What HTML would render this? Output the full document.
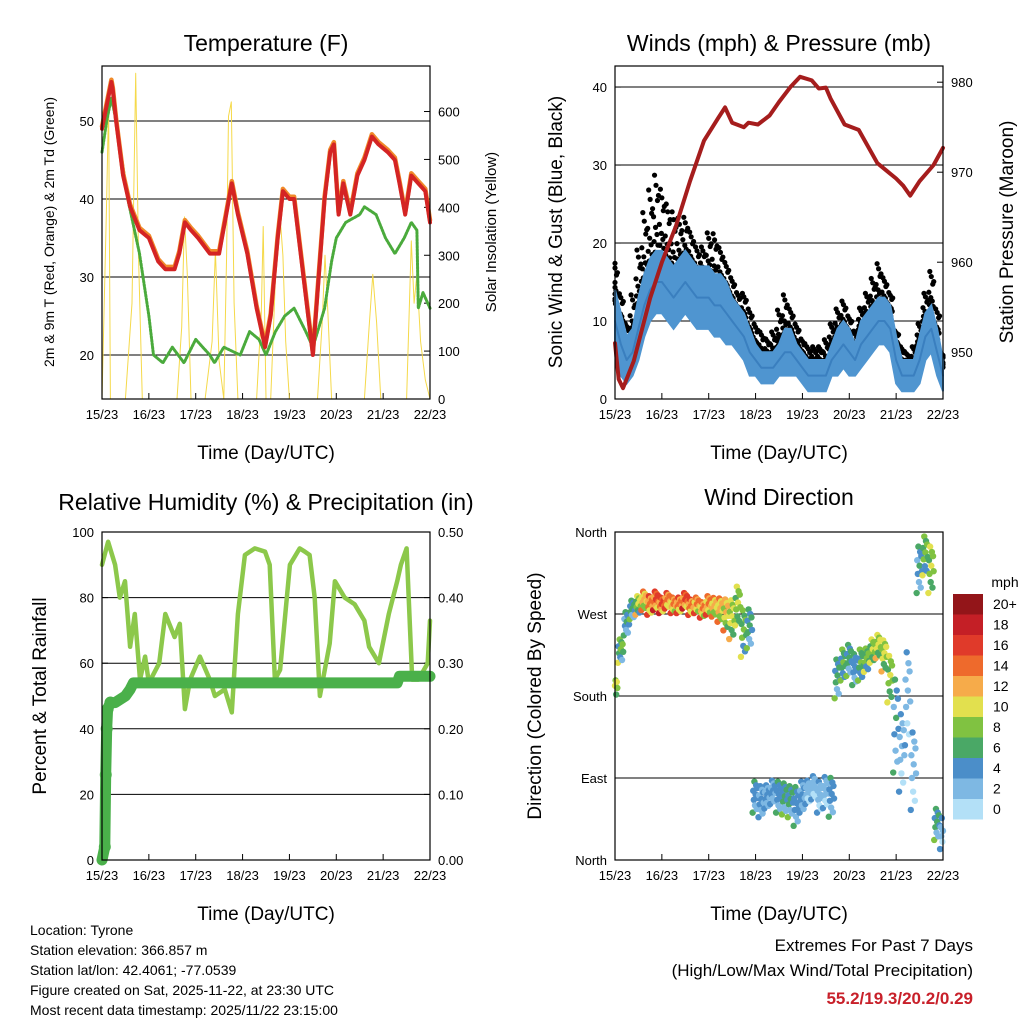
<!DOCTYPE html>
<html><head><meta charset="utf-8"><style>
body{margin:0;background:#fff}
svg text{font-family:"Liberation Sans",Arial,sans-serif;fill:#000}
</style></head><body>
<svg id="s" width="1024" height="1024" viewBox="0 0 1024 1024" xmlns="http://www.w3.org/2000/svg"></svg>
<script>
// ---- data ----
const dayLabels=["15/23","16/23","17/23","18/23","19/23","20/23","21/23","22/23"];
const tempTimes=[0,0.1,0.2,0.23,0.3,0.45,0.6,0.8,1.0,1.2,1.35,1.55,1.65,1.77,1.9,2.05,2.3,2.5,2.65,2.77,2.9,3.1,3.3,3.48,3.6,3.75,3.86,4.0,4.1,4.3,4.5,4.6,4.75,4.87,4.95,5.05,5.15,5.3,5.45,5.6,5.76,5.9,6.1,6.25,6.35,6.47,6.6,6.75,6.9,7.0];
const tempValues=[49,52,55,54,50,43,39,36,35,32,31,31,33,37,36,35,33,33,38,42,38,33,26,21,25,35,41,40,40,30,20,28,40,46,47,38,42,38,43,45,48,47,46,45,42,38,43,42,41,37];
const dewTimes=[0,0.1,0.2,0.3,0.4,0.55,0.8,1.0,1.1,1.3,1.5,1.75,2.0,2.3,2.4,2.6,2.95,3.15,3.35,3.5,3.7,3.9,4.1,4.35,4.5,4.75,4.9,5.0,5.2,5.5,5.6,5.85,6.05,6.25,6.45,6.6,6.72,6.75,6.85,7.0];
const dewValues=[46,50,53,50,46,40,33,25,20,19,21,19,22,20,19,21,20,23,22,20,23,25,26,23,21,26,32,35,37,38,39,38,35,33,35,37,36,26,28,26];
const solarTimes=[0,0.1,0.14,0.18,0.5,0.64,0.72,0.78,0.86,1.6,1.7,1.76,1.82,1.9,2.2,2.35,2.42,2.5,2.6,2.66,2.7,2.76,2.82,2.9,3.3,3.4,3.44,3.5,3.6,3.7,3.8,3.86,3.92,4.0,4.6,4.7,4.76,4.82,4.9,5.6,5.7,5.78,5.86,5.95,6.5,6.6,6.66,6.72,6.8,6.9,7.0];
const solarValues=[0,420,620,0,0,200,680,300,0,0,150,380,260,0,0,120,310,80,0,300,590,620,200,0,0,180,360,0,0,250,380,300,120,0,0,160,300,180,0,0,150,260,160,0,0,330,200,260,120,40,0];
const wind=[10,7,5,6,9,12,14,15,15,14,13,14,15,14,13,13,13,12,12,11,10,9,8,6,5,4,4,4,5,6,6,5,4,3,3,3,3,5,6,7,6,5,7,8,9,10,10,9,5,3,3,3,5,8,9,6,3];
const windSpread=[4,4,3,3,4,4,4,4,4,4,4,4,4,4,4,4,4,4,4,4,3,3,3,3,2,2,2,2,2,3,3,2,2,2,2,2,2,2,3,3,3,2,3,3,3,3,3,3,3,2,2,2,3,3,3,3,2];
const gust=[18,14,10,14,20,25,28,30,28,26,25,24,24,22,20,20,22,22,20,18,16,14,14,12,10,9,8,9,12,14,12,10,8,7,7,7,8,10,12,13,11,9,12,14,16,18,16,14,9,7,6,7,10,14,17,12,6];
const presTimes=[0,0.08,0.17,0.4,0.75,1.0,1.3,1.6,1.9,2.2,2.35,2.5,2.75,2.85,3.05,3.3,3.5,3.75,3.95,4.2,4.35,4.5,4.6,4.9,5.2,5.6,6.0,6.15,6.3,6.5,6.8,7.0];
const presValues=[951,947,946,949,956,960,964,969,973.5,976,977.2,975.5,975,975.5,975.3,976.3,977.8,979.5,980.6,980.2,979.3,979.4,978.2,975.3,974.7,971,969.3,968.5,967.4,969,970.8,972.7];
const rhTimes=[0,0.13,0.28,0.38,0.49,0.6,0.7,0.81,0.92,1.0,1.22,1.35,1.55,1.66,1.77,1.88,2.09,2.3,2.41,2.62,2.77,2.9,3.05,3.26,3.48,3.58,3.69,3.8,4.01,4.22,4.33,4.43,4.54,4.65,4.86,4.97,5.18,5.39,5.6,5.7,5.91,6.12,6.3,6.38,6.5,6.62,6.75,6.95,7.0];
const rhValues=[90,97,90,80,85,65,75,55,62,54,60,75,68,72,46,55,62,55,50,52,45,75,93,95,94,90,55,58,90,95,94,93,80,50,66,85,80,78,73,65,60,75,85,90,95,55,55,60,73];
const precipTimes=[0,0.06,0.08,0.1,0.12,0.18,0.28,0.5,0.6,0.67,6.3,6.35,7.0];
const precipValues=[0,0.02,0.13,0.2,0.23,0.24,0.24,0.25,0.26,0.27,0.27,0.28,0.28];
const dirValues=[190,230,260,275,280,285,280,285,280,285,280,280,285,278,280,275,280,278,275,270,265,280,250,255,70,65,70,75,70,68,65,60,70,75,80,70,75,70,200,215,220,210,215,220,230,235,225,200,150,120,180,100,320,335,320,40,30];
const dirSpread=[12,15,15,12,12,12,12,12,10,10,10,10,10,10,10,10,12,12,15,20,25,25,30,25,20,20,15,15,20,20,20,25,20,15,15,20,20,25,25,20,20,20,20,15,15,15,20,30,60,50,60,50,30,25,30,20,20];
const cbLabels=["20+","18","16","14","12","10","8","6","4","2","0"];
const cbColors=["#931519","#c41f26","#e03a2a","#ee6a2c","#f6ab4a","#e2e04e","#80c241","#4aa866","#4b8ec9","#7eb8e3","#b3e0f7"];

const NS="http://www.w3.org/2000/svg";
const svg=document.getElementById('s');
function el(tag,at,parent){const e=document.createElementNS(NS,tag);for(const k in at)e.setAttribute(k,at[k]);(parent||svg).appendChild(e);return e;}
function txt(s,x,y,size,anchor,rot,parent){const t=el('text',{x:x,y:y,'font-size':size,'text-anchor':anchor||'middle'},parent);if(rot)t.setAttribute('transform','rotate('+rot+' '+x+' '+y+')');t.textContent=s;return t;}

const P1={x0:102,x1:430,y0:66,y1:399},P2={x0:615,x1:943,y0:66,y1:399},P3={x0:102,x1:430,y0:532,y1:860},P4={x0:615,x1:943,y0:532,y1:860};
function xs(P,d){return P.x0+(P.x1-P.x0)*d/7;}
function lin(P,lo,hi){return v=>P.y1-(v-lo)/(hi-lo)*(P.y1-P.y0);}
function frame(P,name){
  const g=el('g',{});
  for(let i=0;i<dayLabels.length;i++){const x=xs(P,i);
    el('line',{x1:x,x2:x,y1:P.y1,y2:P.y1-6,stroke:'#000'},g);
    const t=txt(dayLabels[i],x,P.y1+20,13,'middle',0,g);}
  const tt=txt('Time (Day/UTC)',(P.x0+P.x1)/2,P.y1+60,19,'middle',0,g);
  return g;}
function border(P){const r=el('rect',{x:P.x0,y:P.y0,width:P.x1-P.x0,height:P.y1-P.y0,fill:'none',stroke:'#000','stroke-width':1.2});}
function hgrid(P,y,lab,side,ticksOnly){ if(!ticksOnly)el('line',{x1:P.x0,x2:P.x1,y1:y,y2:y,stroke:'#000','stroke-width':1});
  if(side==='L'){el('line',{x1:P.x0,x2:P.x0+6,y1:y,y2:y,stroke:'#000'});const t=txt(lab,P.x0-8,y+5,13,'end');}
  else{el('line',{x1:P.x1,x2:P.x1-6,y1:y,y2:y,stroke:'#000'});const t=txt(lab,P.x1+8,y+5,13,'start');}}
function poly(P,times,vals,ys,stroke,w,name){let d='';for(let i=0;i<times.length;i++)d+=(i?'L':'M')+xs(P,times[i]).toFixed(1)+','+ys(vals[i]).toFixed(1);
  const p=el('path',{d:d,fill:'none',stroke:stroke,'stroke-width':w,'stroke-linejoin':'round','stroke-linecap':'round'});return p;}
function spdColor(v){let i=Math.min(10,Math.max(0,Math.floor(v/2)));return cbColors[10-i];}

// ---- Panel 1: Temperature ----
{const P=P1;frame(P,'temperature-x-axis');
 const yT=lin(P,14.36,57.05),yS=lin(P,0,695);
 [20,30,40,50].forEach(v=>hgrid(P,yT(v),String(v),'L'));
 [0,100,200,300,400,500,600].forEach(v=>hgrid(P,yS(v),String(v),'R',true));
 poly(P,solarTimes,solarValues,yS,'#f5d94a',1,'solar-line');
 poly(P,dewTimes,dewValues,yT,'#4aaa3c',3,'dewpoint-line').setAttribute('stroke-dasharray','2 1.5');
 poly(P,tempTimes,tempValues.map(v=>v+0.3),yT,'#f08a2a',4.5,'temp-9m-line');
 poly(P,tempTimes,tempValues,yT,'#d42424',4,'temp-2m-line');
 border(P);
 let t=txt('Temperature (F)',266,51,23);
 t=txt('2m & 9m T (Red, Orange) & 2m Td (Green)',54,232,14,'middle',-90);
 t=txt('Solar Insolation (Yellow)',496,232,15,'middle',-90);}

// ---- Panel 2: Winds & Pressure ----
{const P=P2;frame(P,'winds-x-axis');
 const yW=lin(P,0,42.7),yP=lin(P,944.8,981.8);
 [0,10,20,30,40].forEach(v=>hgrid(P,yW(v),String(v),'L',v===0));
 [950,960,970,980].forEach(v=>hgrid(P,yP(v),String(v),'R',true));
 const n=wind.length, tt=wind.map((_,i)=>i*7/(n-1));
 const pat=[0.1,0.7,0.35,0.9,0.2,0.55,0.8,0.05,0.45,0.65,0.3,1.0];
 for(let i=0;i<n;i++){for(let k=0;k<12;k++){const dt=(k/12-0.5)*0.125;const lo=wind[i]+windSpread[i]*0.5;const v=lo+(gust[i]-lo)*pat[k]*(k%3===0?1:0.7);
   const c=el('circle',{cx:xs(P,Math.min(7,Math.max(0,tt[i]+dt))),cy:yW(v),r:2.6,fill:'#000'});
   
   }}
 let up='',dn='';for(let i=0;i<n;i++){up+=(i?'L':'M')+xs(P,tt[i])+','+yW(wind[i]+windSpread[i]);}
 for(let i=n-1;i>=0;i--){dn+='L'+xs(P,tt[i])+','+yW(Math.max(0,wind[i]-windSpread[i]));}
 const b=el('path',{d:up+dn+'Z',fill:'#4f95d0',stroke:'#4f95d0','stroke-width':2});
 poly(P,tt,wind,yW,'#3a7fbf',2,'sustained-wind-line');
 poly(P,presTimes,presValues,yP,'#a51d1d',4,'pressure-line');
 border(P);
 let t=txt('Winds (mph) & Pressure (mb)',779,51,23);
 t=txt('Sonic Wind & Gust (Blue, Black)',562,232,19,'middle',-90);
 t=txt('Station Pressure (Maroon)',1013,232,19,'middle',-90);}

// ---- Panel 3: RH & Precip ----
{const P=P3;frame(P,'rh-x-axis');
 const yR=lin(P,0,100),yQ=lin(P,0,0.5);
 [0,20,40,60,80,100].forEach(v=>hgrid(P,yR(v),String(v),'L',v===0||v===100));
 [0,0.1,0.2,0.3,0.4,0.5].forEach(v=>hgrid(P,yQ(v),v.toFixed(2),'R',true));
 poly(P,rhTimes,rhValues,yR,'#8cc84b',4.5,'rh-line');
 poly(P,precipTimes,precipValues,yQ,'#4ab04a',11,'precip-line');
 for(let i=1;i<6;i++){const c=el('circle',{cx:xs(P,precipTimes[i]),cy:yQ(precipValues[i]),r:6,fill:'#4ab04a'});
   
   }
 border(P);
 let t=txt('Relative Humidity (%) & Precipitation (in)',266,510,23);
 t=txt('Percent & Total Rainfall',46,696,19,'middle',-90);}

// ---- Panel 4: Wind Direction ----
{const P=P4;frame(P,'direction-x-axis');
 const yD=lin(P,0,360);
 [[360,'North'],[270,'West'],[180,'South'],[90,'East'],[0,'North']].forEach(a=>hgrid(P,yD(a[0]),a[1],'L',a[0]===0||a[0]===360));
 const n=dirValues.length;
 const offs=[-0.9,0.3,-0.2,0.8,-0.5,0.1,0.6,-0.7,0.45,-0.1];
 for(let i=0;i<n;i++){for(let k=0;k<10;k++){const d=(i*7/(n-1))+(k/10-0.5)*0.125;if(d<0||d>7)continue;
   const v=dirValues[i]+dirSpread[i]*offs[k];const sp=wind[i]+windSpread[i]*offs[(k+3)%10];
   const c=el('circle',{cx:xs(P,d),cy:yD(Math.max(0,Math.min(360,v))),r:3.2,fill:spdColor(sp)});
   
   }}
 border(P);
 let t=txt('Wind Direction',779,505,23);
 t=txt('Direction (Colored By Speed)',541,696,19,'middle',-90);
 t=txt('mph',1005,587,14);
 for(let i=0;i<cbColors.length;i++){const r=el('rect',{x:953,y:594+i*20.5,width:30,height:20.5,fill:cbColors[i]});
   
   
   const l=txt(cbLabels[i],993,609+i*20.5,14,'start');
   
   }}

// ---- footer ----
["Location: Tyrone","Station elevation: 366.857 m","Station lat/lon: 42.4061; -77.0539","Figure created on Sat, 2025-11-22, at 23:30 UTC","Most recent data timestamp: 2025/11/22 23:15:00"].forEach((s,i)=>{const t=txt(s,30,935+i*20,14,'start');});
let t=txt('Extremes For Past 7 Days',973,951,17,'end');
t=txt('(High/Low/Max Wind/Total Precipitation)',973,976,17,'end');
t=txt('55.2/19.3/20.2/0.29',973,1004,17,'end');t.setAttribute('font-weight','bold');t.setAttribute('style','fill:#c8202a');
</script>
</body></html>
